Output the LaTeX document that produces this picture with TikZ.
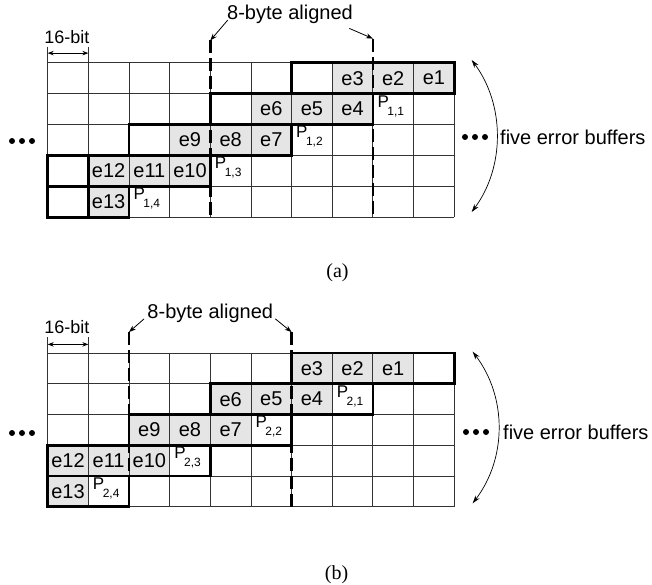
\documentclass[tikz,border=0pt]{standalone}
\usepackage{fontspec}
\setmainfont{Liberation Sans}
\newfontfamily\capserif{Liberation Serif}
\usetikzlibrary{arrows.meta}
% parity label: P with a lowered index
\newcommand\parlbl[1]{{\fontsize{17}{18}\selectfont P}\kern-1.5pt\raisebox{-0.75ex}{\fontsize{12}{12}\selectfont #1}}

\begin{document}
\begin{tikzpicture}[x=1pt,y=-1pt,
  cellrule/.style={line width=0.9pt, draw=black!80},
  bufrule/.style={line width=2.8pt, line cap=rect},
  alignrule/.style={line width=2.8pt, dash pattern=on 13pt off 5pt},
  errcell/.style={fill=black!10},
  lbl/.style={font=\fontsize{20}{22}\selectfont, inner sep=0pt},
  capt/.style={font=\capserif\fontsize{20}{22}\selectfont, inner sep=0pt},
  ptr/.style={-{Stealth[length=7pt,width=5pt]}, line width=0.8pt},
  span/.style={{Stealth[length=6pt,width=4.5pt]}-{Stealth[length=6pt,width=4.5pt]}, line width=0.8pt},
  arcline/.style={{Stealth[length=8pt,width=5pt]}-{Stealth[length=8pt,width=5pt]}, line width=0.7pt},
  dot/.style={circle, fill=black, inner sep=0pt, minimum size=6pt}]

\useasboundingbox (0,0) rectangle (652,585);

% ---------------- panel (a) ----------------
\begin{scope}[shift={(47.7pt,-62.7pt)}, x=40.65pt, y=-30.9pt]
  \foreach \i/\j in {7/0,8/0,9/0,5/1,6/1,7/1,3/2,4/2,5/2,1/3,2/3,3/3,1/4}
    \fill[errcell] (\i,\j) rectangle ++(1,1);
  \foreach \i in {0,...,10} \draw[cellrule] (\i,0) -- (\i,5);
  \foreach \j in {0,...,5} \draw[cellrule] (0,\j) -- (10,\j);
  % error buffers
  \draw[bufrule] (6,0) rectangle (10,1);
  \draw[bufrule] (4,1) rectangle (8,2);
  \draw[bufrule] (2,2) rectangle (6,3);
  \draw[bufrule] (0,3) rectangle (4,4);
  \draw[bufrule] (0,4) rectangle (2,5);
  \draw[bufrule] (1,3) -- (1,5);
  % 8-byte boundaries
  \coordinate (a-al) at (4,-0.72);
  \coordinate (a-ar) at (8,-0.78);
  \coordinate (a-alb) at (4,5);
  \coordinate (a-arb) at (8,5);
  \draw[alignrule] (a-al) -- (a-alb);
  \draw[alignrule] (a-ar) -- (a-arb);
  \node[lbl] (a-align) at (5.96,-1.57) {8-byte aligned};
  \coordinate (a-als) at (4.43,-1.38);
  \coordinate (a-ars) at (7.42,-1.11);
  \draw[ptr] (a-als) -- (a-al);
  \draw[ptr] (a-ars) -- (a-ar);
  % word width
  \coordinate (a-w0) at (0,-0.52);
  \coordinate (a-w1) at (1,-0.52);
  \coordinate (a-g0) at (0,0);
  \coordinate (a-g1) at (1,0);
  \draw[cellrule] (a-w0) -- (a-g0);
  \draw[cellrule] (a-w1) -- (a-g1);
  \coordinate (a-s0) at (0,-0.31);
  \coordinate (a-s1) at (1,-0.31);
  \draw[span] (a-s0) -- (a-s1);
  \node[lbl, font=\fontsize{18}{20}\selectfont] (a-bits) at (0.47,-0.82) {16-bit};
  % cell contents
  \node[lbl] (a-e1) at (9.5,0.5) {e1};
  \node[lbl] (a-e2) at (8.5,0.5) {e2};
  \node[lbl] (a-e3) at (7.5,0.5) {e3};
  \node[lbl] (a-e4) at (7.5,1.5) {e4};
  \node[lbl] (a-e5) at (6.5,1.5) {e5};
  \node[lbl] (a-e6) at (5.5,1.5) {e6};
  \node[lbl] (a-e7) at (5.5,2.5) {e7};
  \node[lbl] (a-e8) at (4.5,2.5) {e8};
  \node[lbl] (a-e9) at (3.5,2.5) {e9};
  \node[lbl] (a-e10) at (3.5,3.5) {e10};
  \node[lbl] (a-e11) at (2.5,3.5) {e11};
  \node[lbl] (a-e12) at (1.5,3.5) {e12};
  \node[lbl] (a-e13) at (1.5,4.5) {e13};
  \node[lbl] (a-p1) at (8.44,1.4) {\parlbl{1,1}};
  \node[lbl] (a-p2) at (6.44,2.4) {\parlbl{1,2}};
  \node[lbl] (a-p3) at (4.44,3.4) {\parlbl{1,3}};
  \node[lbl] (a-p4) at (2.44,4.4) {\parlbl{1,4}};
\end{scope}

% ---------------- panel (b) ----------------
\begin{scope}[shift={(47.7pt,-353pt)}, x=40.65pt, y=-30.75pt]
  \foreach \i/\j in {6/0,7/0,8/0,4/1,5/1,6/1,2/2,3/2,4/2,0/3,1/3,2/3,0/4}
    \fill[errcell] (\i,\j) rectangle ++(1,1);
  \foreach \i in {0,...,10} \draw[cellrule] (\i,0) -- (\i,5);
  \foreach \j in {0,...,5} \draw[cellrule] (0,\j) -- (10,\j);
  % error buffers
  \draw[bufrule] (6,0) rectangle (10,1);
  \draw[bufrule] (4,1) rectangle (8,2);
  \draw[bufrule] (2,2) rectangle (6,3);
  \draw[bufrule] (0,3) rectangle (4,4);
  \draw[bufrule] (0,4) rectangle (2,5);
  % 8-byte boundaries
  \coordinate (b-al) at (2,-0.68);
  \coordinate (b-ar) at (6,-0.68);
  \coordinate (b-alb) at (2,5);
  \coordinate (b-arb) at (6,5);
  \draw[alignrule] (b-al) -- (b-alb);
  \draw[alignrule] (b-ar) -- (b-arb);
  \node[lbl] (b-align) at (4.0,-1.30) {8-byte aligned};
  \coordinate (b-als) at (2.37,-1.11);
  \coordinate (b-ars) at (5.6,-1.11);
  \draw[ptr] (b-als) -- (b-al);
  \draw[ptr] (b-ars) -- (b-ar);
  % word width
  \coordinate (b-w0) at (0,-0.52);
  \coordinate (b-w1) at (1,-0.52);
  \coordinate (b-g0) at (0,0);
  \coordinate (b-g1) at (1,0);
  \draw[cellrule] (b-w0) -- (b-g0);
  \draw[cellrule] (b-w1) -- (b-g1);
  \coordinate (b-s0) at (0,-0.28);
  \coordinate (b-s1) at (1,-0.28);
  \draw[span] (b-s0) -- (b-s1);
  \node[lbl, font=\fontsize{18}{20}\selectfont] (b-bits) at (0.47,-0.85) {16-bit};
  % cell contents
  \node[lbl] (b-e1) at (8.5,0.5) {e1};
  \node[lbl] (b-e2) at (7.5,0.5) {e2};
  \node[lbl] (b-e3) at (6.5,0.5) {e3};
  \node[lbl] (b-e4) at (6.5,1.5) {e4};
  \node[lbl] (b-e5) at (5.5,1.5) {e5};
  \node[lbl] (b-e6) at (4.5,1.5) {e6};
  \node[lbl] (b-e7) at (4.5,2.5) {e7};
  \node[lbl] (b-e8) at (3.5,2.5) {e8};
  \node[lbl] (b-e9) at (2.5,2.5) {e9};
  \node[lbl] (b-e10) at (2.5,3.5) {e10};
  \node[lbl] (b-e11) at (1.5,3.5) {e11};
  \node[lbl] (b-e12) at (0.5,3.5) {e12};
  \node[lbl] (b-e13) at (0.5,4.5) {e13};
  \node[lbl] (b-p1) at (7.44,1.4) {\parlbl{2,1}};
  \node[lbl] (b-p2) at (5.44,2.4) {\parlbl{2,2}};
  \node[lbl] (b-p3) at (3.44,3.4) {\parlbl{2,3}};
  \node[lbl] (b-p4) at (1.44,4.4) {\parlbl{2,4}};
\end{scope}

% ---------------- side marks, panel (a) ----------------
\node[dot] (a-l1) at (12,141) {};
\node[dot] (a-l2) at (22,141) {};
\node[dot] (a-l3) at (32,141) {};
\node[dot] (a-r1) at (465,137) {};
\node[dot] (a-r2) at (475,137) {};
\node[dot] (a-r3) at (485,137) {};
\coordinate (a-arctop) at (471.7,60);
\coordinate (a-arcbot) at (471.7,212);
\draw[arcline] (a-arctop) .. controls (505,105) and (505,167) .. (a-arcbot);
\node[lbl, anchor=west] (a-five) at (500,137) {five error buffers};
\node[capt] (cap-a) at (337.5,273) {(a)};

% ---------------- side marks, panel (b) ----------------
\node[dot] (b-l1) at (12,433) {};
\node[dot] (b-l2) at (22,433) {};
\node[dot] (b-l3) at (32,433) {};
\node[dot] (b-r1) at (466,432) {};
\node[dot] (b-r2) at (476,432) {};
\node[dot] (b-r3) at (486,432) {};
\coordinate (b-arctop) at (472.7,351.7);
\coordinate (b-arcbot) at (472.7,503.3);
\draw[arcline] (b-arctop) .. controls (507,397) and (507,458) .. (b-arcbot);
\node[lbl, anchor=west] (b-five) at (503,432) {five error buffers};
\node[capt] (cap-b) at (336.5,575) {(b)};
\end{tikzpicture}
\end{document}
